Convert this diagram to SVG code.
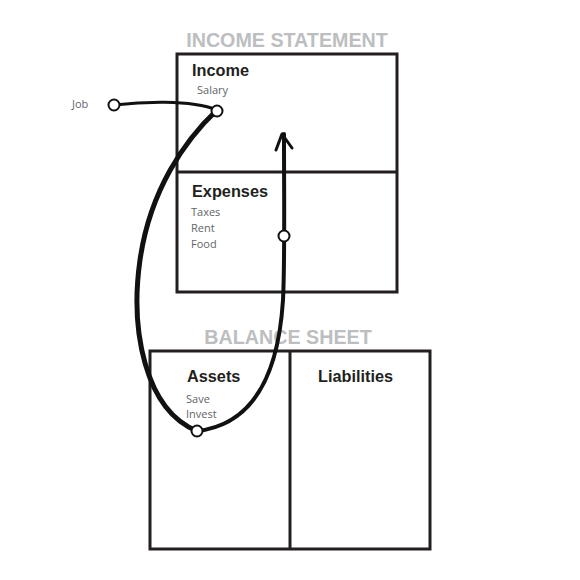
<svg xmlns="http://www.w3.org/2000/svg" width="580" height="580" viewBox="0 0 580 580">
<style>
.box{fill:none;stroke:#231f20;stroke-width:3}
.title{font-family:"Liberation Sans",Arial,sans-serif;font-weight:bold;font-size:19.7px;fill:#bcbec0}
.head{font-family:"Liberation Sans",Arial,sans-serif;font-weight:bold;font-size:16.3px;fill:#231f20}
.item{font-family:"Open Sans","Liberation Sans",sans-serif;font-size:11px;fill:#636466}
.flow{fill:none;stroke:#111;stroke-linecap:round;stroke-linejoin:round}
.dot{fill:#fff;stroke:#111;stroke-width:2}
</style>
<rect width="580" height="580" fill="#fff"/>
<g id="income-statement">
<text class="title" x="287" y="47" text-anchor="middle">INCOME STATEMENT</text>
<rect class="box" x="177" y="54" width="220" height="238"/>
<line class="box" x1="177" y1="172" x2="397" y2="172"/>
</g>
<g id="income">
<text class="head" x="192" y="76">Income</text>
<text class="item" x="197" y="94">Salary</text>
</g>
<g id="expenses">
<text class="head" x="192" y="197">Expenses</text>
<text class="item" x="191" y="216">Taxes</text>
<text class="item" x="191" y="232">Rent</text>
<text class="item" x="191" y="248">Food</text>
</g>
<g id="balance-sheet">
<text class="title" x="288" y="344" text-anchor="middle">BALANCE SHEET</text>
<rect class="box" x="150" y="351" width="280" height="198"/>
<line class="box" x1="290" y1="351" x2="290" y2="549"/>
</g>
<g id="assets">
<text class="head" x="187" y="382">Assets</text>
<text class="item" x="186" y="403">Save</text>
<text class="item" x="186" y="418">Invest</text>
</g>
<g id="liabilities">
<text class="head" x="318" y="382">Liabilities</text>
</g>
<g id="job">
<text class="item" x="72" y="108">Job</text>
</g>
<g id="connectors">
<path class="flow" stroke-width="3" d="M114,105 C140,102 190,99 217,110"/>
<path class="flow" stroke-width="5" d="M217,110 C185,140 150,190 140,260 C130,330 145,410 197,431"/>
<path class="flow" stroke-width="4" d="M197,431 C250,425 278,380 283,300 C285,260 284,200 284,134"/>
<path class="flow" stroke-width="3" d="M276,150 L282,134 L292,148"/>
<circle class="dot" cx="114" cy="105" r="5.5"/>
<circle class="dot" cx="217" cy="111" r="5.5"/>
<circle class="dot" cx="284" cy="236" r="5.5"/>
<circle class="dot" cx="197" cy="431" r="5.5"/>
</g>
</svg>
